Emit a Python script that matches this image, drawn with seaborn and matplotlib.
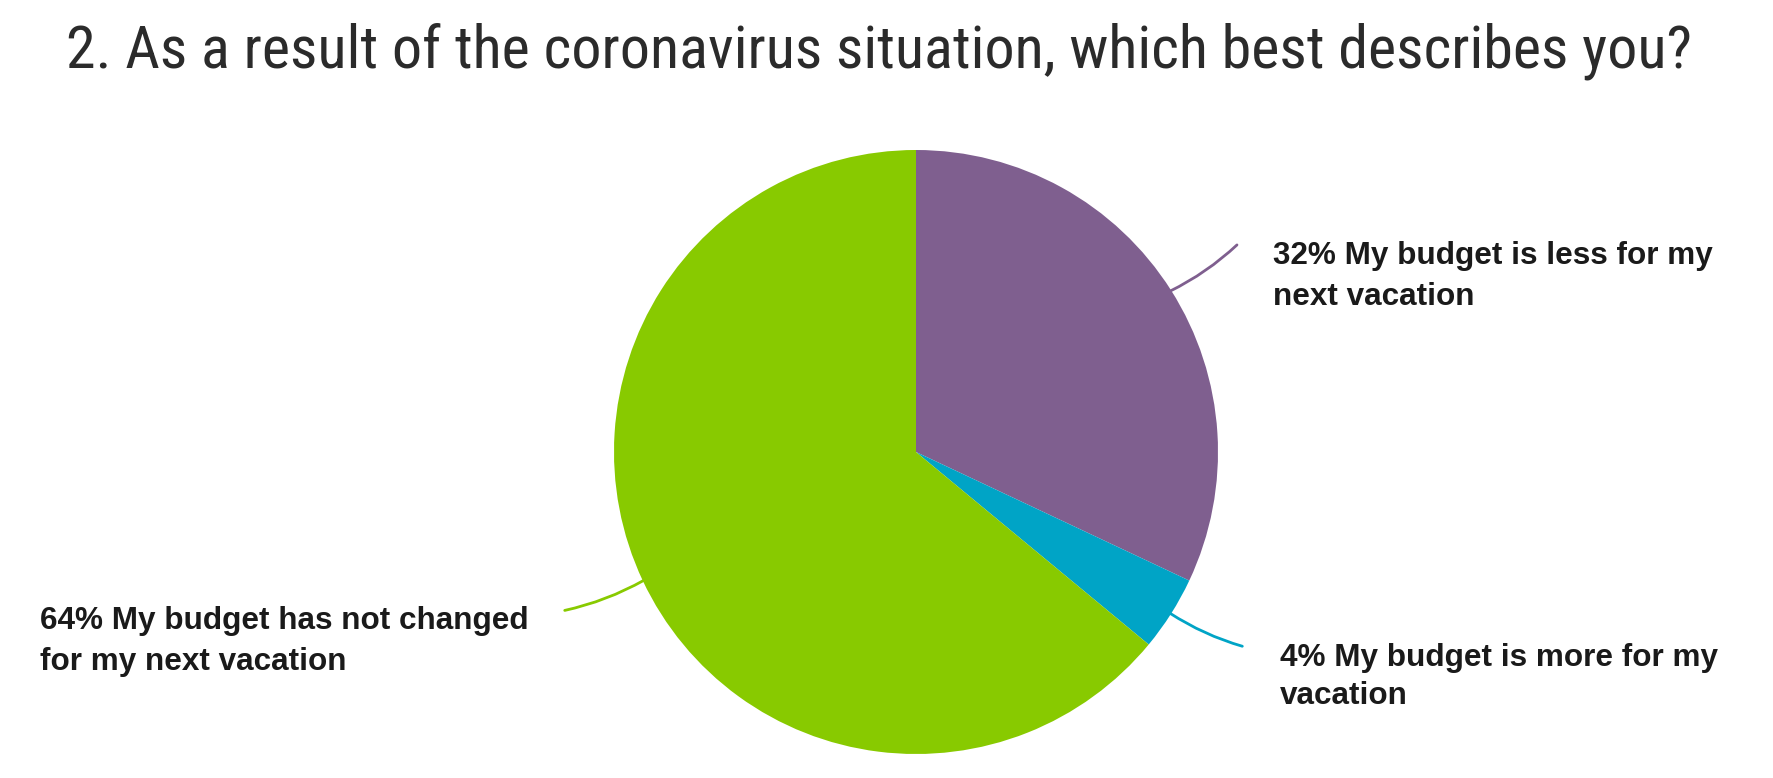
import matplotlib
matplotlib.use("Agg")
import matplotlib.pyplot as plt
import seaborn as sns
import numpy as np

# ---- data ----
categories = ["My budget is less for my next vacation",
              "My budget is more for my vacation",
              "My budget has not changed for my next vacation"]
shares = [32, 4, 64]
label_lines = [["32% My budget is less for my", "next vacation"],
               ["4% My budget is more for my", "vacation"],
               ["64% My budget has not changed", "for my next vacation"]]
colors = ["#7F5F8F", "#00A4C6", "#88CA00"]
title = "2. As a result of the coronavirus situation, which best describes you?"

sns.set_theme(style="white")
plt.rcParams['font.family'] = ['Liberation Sans', 'DejaVu Sans']

W, H = 1774, 778
fig = plt.figure(figsize=(W / 100, H / 100), dpi=100)
fig.patch.set_facecolor("white")
ax = fig.add_axes([0, 0, 1, 1])

cx, cy, r = 916, H - 452, 302
wedges, _ = ax.pie(shares, colors=colors, startangle=90, counterclock=False,
                   center=(cx, cy), radius=r, frame=True,
                   wedgeprops=dict(linewidth=0))
ax.set_xlim(0, W)
ax.set_ylim(0, H)
ax.set_aspect("equal")
ax.axis("off")

# label layout (pixel positions, top-left origin): x, baseline1, baseline2, line end
layout = [
    dict(x=1273, b=(264, 305), end=(1239, 243), rad=0.08),
    dict(x=1280, b=(666, 704), end=(1245, 647), rad=0.08),
    dict(x=40, b=(629, 670), end=(562, 611), rad=-0.08),
]

for w, lines, lay, col in zip(wedges, label_lines, layout, colors):
    ang = np.deg2rad((w.theta1 + w.theta2) / 2)
    sx = cx + (r - 4) * np.cos(ang)
    sy = cy + (r - 4) * np.sin(ang)
    ex, ey = lay["end"]
    ax.annotate("", xy=(ex, H - ey), xytext=(sx, sy),
                arrowprops=dict(arrowstyle="-", color=col, lw=2.0,
                                connectionstyle=f"arc3,rad={lay['rad']}"))
    for line, b in zip(lines, lay["b"]):
        ax.text(lay["x"], H - b, line, ha="left", va="baseline",
                fontsize=22.7, fontweight="bold", color="#1a1a1a")

fig.text(66 / W, 1 - 67 / H, title, ha="left", va="baseline",
         fontsize=43.3, color="#2b2b2b",
         family=['Roboto Condensed', 'Roboto', 'DejaVu Sans'],
         fontstretch="condensed")

fig.savefig("out.png", dpi=100, facecolor="white")
